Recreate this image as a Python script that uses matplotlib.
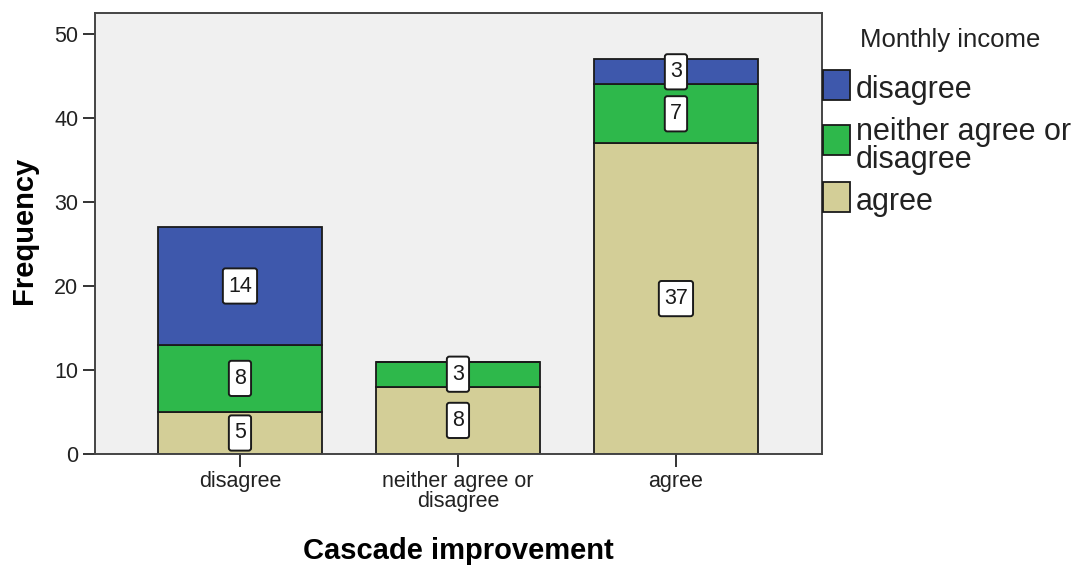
import matplotlib
matplotlib.use("Agg")
import matplotlib.pyplot as plt
from matplotlib.patches import Rectangle
from matplotlib.path import Path
import numpy as np

plt.rcParams['font.family'] = ['Liberation Sans', 'DejaVu Sans']

categories = ["disagree", "neither agree or\ndisagree", "agree"]
series_names = ["agree", "neither agree or\ndisagree", "disagree"]
series_values = {
    "agree": [5, 8, 37],
    "neither agree or\ndisagree": [8, 3, 7],
    "disagree": [14, 0, 3],
}
series_colors = {
    "agree": "#d3ce97",
    "neither agree or\ndisagree": "#2eb84b",
    "disagree": "#3e58ac",
}
y_ticks = [0, 10, 20, 30, 40, 50]
legend_title = "Monthly income"
legend_order = ["disagree", "neither agree or\ndisagree", "agree"]

W, H = 1085, 565
fig = plt.figure(figsize=(W / 100, H / 100), dpi=100)
ax = fig.add_axes([95 / W, 1 - 454 / H, (822 - 95) / W, (454 - 13) / H])
ax.set_facecolor("#f0f0f0")


def tall_box(x0, y0, width, height, mutation_size):
    """Rounded label box, narrow at the sides and tall above and below."""
    px = 0.24 * mutation_size
    py = 0.33 * mutation_size
    r = 0.12 * mutation_size
    x0, y0 = x0 - px, y0 - py
    x1, y1 = x0 + width + 2 * px, y0 + height + 2 * py
    verts = [(x0 + r, y0), (x1 - r, y0), (x1, y0), (x1, y0 + r),
             (x1, y1 - r), (x1, y1), (x1 - r, y1),
             (x0 + r, y1), (x0, y1), (x0, y1 - r),
             (x0, y0 + r), (x0, y0), (x0 + r, y0), (x0 + r, y0)]
    codes = [Path.MOVETO, Path.LINETO, Path.CURVE3, Path.CURVE3,
             Path.LINETO, Path.CURVE3, Path.CURVE3,
             Path.LINETO, Path.CURVE3, Path.CURVE3,
             Path.LINETO, Path.CURVE3, Path.CURVE3, Path.CLOSEPOLY]
    return Path(verts, codes)


x = np.arange(len(categories))
bottom = np.zeros(len(categories))
for name in series_names:
    vals = np.array(series_values[name], dtype=float)
    ax.bar(x, vals, width=0.752, bottom=bottom, color=series_colors[name],
           edgecolor="#1a1a1a", linewidth=1.3, zorder=2)
    for xi, b, v in zip(x, bottom, vals):
        if v > 0:
            ax.text(xi, b + v / 2, f"{int(v)}", ha="center", va="center",
                    fontsize=15.5, color="#1a1a1a", zorder=4,
                    bbox=dict(boxstyle=tall_box, facecolor="white",
                              edgecolor="#1a1a1a", linewidth=1.4))
    bottom += vals

ax.set_xlim(-0.665, 2.67)
ax.set_ylim(0, 52.5)
ax.set_yticks(y_ticks)
ax.set_yticklabels([str(t) for t in y_ticks], fontsize=15.5, color="#222222")
ax.set_xticks(x)
ax.set_xticklabels(categories, fontsize=15.5, color="#222222", linespacing=0.95)
ax.tick_params(axis="both", length=9, width=1.4, color="#333333", pad=3)
for side in ["left", "bottom", "top", "right"]:
    ax.spines[side].set_color("#444444")
    ax.spines[side].set_linewidth(1.4)

ax.set_ylabel("Frequency", fontsize=21, fontweight="bold")
ax.yaxis.set_label_coords(-57 / (822 - 95), (454 - 230) / (454 - 13))
ax.set_xlabel("Cascade improvement", fontsize=21, fontweight="bold", labelpad=18)

# legend drawn in figure pixels
fig.text(860 / W, 1 - 40 / H, legend_title, fontsize=18.5, va="center",
         ha="left", color="#222222")
patch_tops = [70, 125, 182]
text_centers = [90, 146, 202]
for name, top, tc in zip(legend_order, patch_tops, text_centers):
    fig.patches.append(Rectangle((823 / W, 1 - (top + 30) / H), 27 / W, 30 / H,
                                 transform=fig.transFigure, facecolor=series_colors[name],
                                 edgecolor="#1a1a1a", linewidth=1.3))
    fig.text(856 / W, 1 - tc / H, name, fontsize=22, va="center", ha="left",
             color="#222222", linespacing=0.9)

fig.savefig("out.png", dpi=100, facecolor="white")
